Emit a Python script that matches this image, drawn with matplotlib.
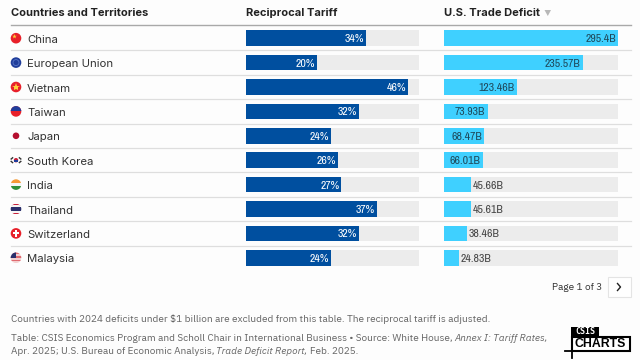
import logging
import matplotlib
matplotlib.use("Agg")
import matplotlib.pyplot as plt
from matplotlib.patches import Circle, Rectangle, Polygon

logging.getLogger("matplotlib.font_manager").setLevel(logging.ERROR)

countries = ["China", "European Union", "Vietnam", "Taiwan", "Japan", "South Korea",
             "India", "Thailand", "Switzerland", "Malaysia"]
tariff = [34, 20, 46, 32, 24, 26, 27, 37, 32, 24]
deficit = [295.4, 235.57, 123.46, 73.93, 68.47, 66.01, 45.66, 45.61, 38.46, 24.83]
deficit_labels = ["295.4B", "235.57B", "123.46B", "73.93B", "68.47B", "66.01B",
                  "45.66B", "45.61B", "38.46B", "24.83B"]
tariff_max = 49
deficit_max = 295.4

W, H = 640, 360
BG = "#fdfdfd"
plt.rcParams["font.family"] = ["Inter", "DejaVu Sans"]
NARROW = ["Archivo Narrow", "Liberation Sans", "DejaVu Sans"]
PLEX = ["IBM Plex Sans", "Liberation Sans", "DejaVu Sans"]

fig = plt.figure(figsize=(W / 100, H / 100), dpi=100, facecolor=BG)

def px_axes(x0, y0, x1, y1):
    a = fig.add_axes([x0 / W, 1 - y1 / H, (x1 - x0) / W, (y1 - y0) / H])
    a.axis("off")
    return a

# page layer in pixel coords
page = px_axes(0, 0, W, H)
page.set_xlim(0, W)
page.set_ylim(H, 0)

row_top, row_h = 26.0, 24.4
rows = list(range(len(countries)))

page.text(11, 12.5, "Countries and Territories", fontsize=8, fontweight="bold", color="#222222", va="center")
page.text(246, 12.5, "Reciprocal Tariff", fontsize=8, fontweight="bold", color="#222222", va="center")
page.text(444, 12.5, "U.S. Trade Deficit", fontsize=8, fontweight="bold", color="#222222", va="center")
page.add_patch(Polygon([[544.5, 10], [551, 10], [547.8, 16]], color="#b8b8b8", lw=0))
page.plot([11, 631], [25.3, 25.3], color="#a9a9a9", lw=1)

def yc_of(i):
    return row_top + row_h * (i + 0.5)

for i in rows:
    page.text(27, yc_of(i) + 1.6, countries[i], fontsize=8.2, color="#333333", va="center")
    if i < len(rows) - 1:
        page.plot([11, 631], [yc_of(i) + 12.2, yc_of(i) + 12.2], color="#dedede", lw=0.9)

# flags
def flag(i, base):
    c = Circle((16, yc_of(i)), 5.3, facecolor=base, lw=0)
    page.add_patch(c)
    return c

def stripes(i, cols):
    c = flag(i, "#ffffff")
    top = yc_of(i) - 5.3
    h = 10.6 / len(cols)
    for k, col in enumerate(cols):
        r = Rectangle((10, top + k * h), 12, h + 0.1, facecolor=col, lw=0)
        page.add_patch(r)
        r.set_clip_path(c)
    return c

flag(0, "#e8202a")
page.plot(14, yc_of(0) - 2, marker="*", ms=3.5, color="#ffd23a", mew=0)
flag(1, "#1f3d9b")
page.add_patch(Circle((16, yc_of(1)), 3, fill=False, ec="#5a78c8", lw=0.6))
flag(2, "#e8202a")
page.plot(16, yc_of(2), marker="*", ms=6, color="#ffd23a", mew=0)
c = flag(3, "#e8202a")
r = Rectangle((10, yc_of(3) - 6), 12, 5.5, facecolor="#1f3d9b", lw=0)
page.add_patch(r)
r.set_clip_path(c)
page.add_patch(Circle((16, yc_of(4)), 3.3, facecolor="#b5102f", lw=0))
page.add_patch(Circle((16, yc_of(5)), 2.2, facecolor="#c8203a", lw=0))
page.add_patch(Rectangle((13.8, yc_of(5)), 4.4, 2.2, facecolor="#1f3d9b", lw=0))
for sx, sy in [(-1, -1), (1, -1), (-1, 1), (1, 1)]:
    page.plot([16 + sx * 3.4, 16 + sx * 4.8], [yc_of(5) + sy * 2.4, yc_of(5) + sy * 1.2], color="#333333", lw=1)
stripes(6, ["#f59a36", "#f5f5f5", "#2f8f3a"])
stripes(7, ["#c8203a", "#f5f5f5", "#2a2f6b", "#2a2f6b", "#f5f5f5", "#c8203a"])
flag(8, "#e8202a")
page.add_patch(Rectangle((14.9, yc_of(8) - 3.2), 2.2, 6.4, facecolor="white", lw=0))
page.add_patch(Rectangle((12.8, yc_of(8) - 1.1), 6.4, 2.2, facecolor="white", lw=0))
c = stripes(9, ["#e06a70", "#f3d0d0", "#e06a70", "#f3d0d0", "#e06a70", "#f3d0d0"])
r = Rectangle((10, yc_of(9) - 6), 6, 6, facecolor="#2a2f6b", lw=0)
page.add_patch(r)
r.set_clip_path(c)

# tariff column
ax1 = px_axes(246, row_top, 419, row_top + row_h * 10)
ax1.barh(rows, [tariff_max] * 10, height=0.635, color="#ececec", lw=0)
ax1.barh(rows, tariff, height=0.635, color="#004f9f", lw=0)
for i in rows:
    ax1.annotate(f"{tariff[i]}%", (tariff[i], i), xytext=(-1.5, -0.7), textcoords="offset points",
                 ha="right", va="center", fontsize=8.5, family=NARROW, color="white")
ax1.set_xlim(0, tariff_max)
ax1.set_ylim(9.5, -0.5)

# deficit column
ax2 = px_axes(444, row_top, 618, row_top + row_h * 10)
ax2.barh(rows, [deficit_max] * 10, height=0.635, color="#ececec", lw=0)
ax2.barh(rows, deficit, height=0.635, color="#3fd0ff", lw=0)
for i in rows:
    if deficit[i] > 60:
        ax2.annotate(deficit_labels[i], (deficit[i], i), xytext=(-1.5, -0.7), textcoords="offset points",
                     ha="right", va="center", fontsize=8.5, family=NARROW, color="#1f4a5c")
    else:
        ax2.annotate(deficit_labels[i], (deficit[i], i), xytext=(1.5, -0.7), textcoords="offset points",
                     ha="left", va="center", fontsize=8.5, family=NARROW, color="#444444")
ax2.set_xlim(0, deficit_max)
ax2.set_ylim(9.5, -0.5)

# pager
page.text(602, 287.5, "Page 1 of 3", fontsize=7.2, family=PLEX, color="#333333", ha="right", va="center")
page.add_patch(Rectangle((608, 277), 22.5, 19.5, facecolor="white", edgecolor="#e4e4e4", lw=0.8))
page.plot([617.5, 620.5, 617.5], [283.5, 287, 290.5], color="#222222", lw=1)

# footer, runs placed one after the other so the italic bits follow on
FOOT = "#666666"
renderer = fig.canvas.get_renderer()

def runs(x, y, parts):
    for s, style in parts:
        t = page.text(x, y, s, fontsize=7.2, family=PLEX, style=style, color=FOOT, va="center")
        x = t.get_window_extent(renderer).x1 + 2

runs(11, 319, [("Countries with 2024 deficits under \\$1 billion are excluded from this table. The reciprocal tariff is adjusted.", "normal")])
runs(11, 338.5, [("Table: CSIS Economics Program and Scholl Chair in International Business \u2022 Source: White House,", "normal"),
                 ("Annex I: Tariff Rates,", "italic")])
runs(11, 352, [("Apr. 2025; U.S. Bureau of Economic Analysis,", "normal"),
               ("Trade Deficit Report,", "italic"),
               ("Feb. 2025.", "normal")])

# logo
page.add_patch(Rectangle((571, 326.5), 28, 10, facecolor="black", lw=0))
page.text(585, 331.5, "CSIS", fontsize=6, fontweight="bold", family="DejaVu Sans Mono",
          color="white", ha="center", va="center")
page.add_patch(Rectangle((571.5, 336.5), 58, 14.5, facecolor="white", edgecolor="black", lw=1.5))
page.text(600.5, 344, "CHARTS", fontsize=8.8, fontweight="bold", family="Liberation Sans",
          color="black", ha="center", va="center")
page.plot([565, 578], [351, 351], color="black", lw=1.3)
page.plot([571.5, 571.5], [345, 357.5], color="black", lw=1.3)

fig.savefig("out.png", dpi=100, facecolor=BG)
